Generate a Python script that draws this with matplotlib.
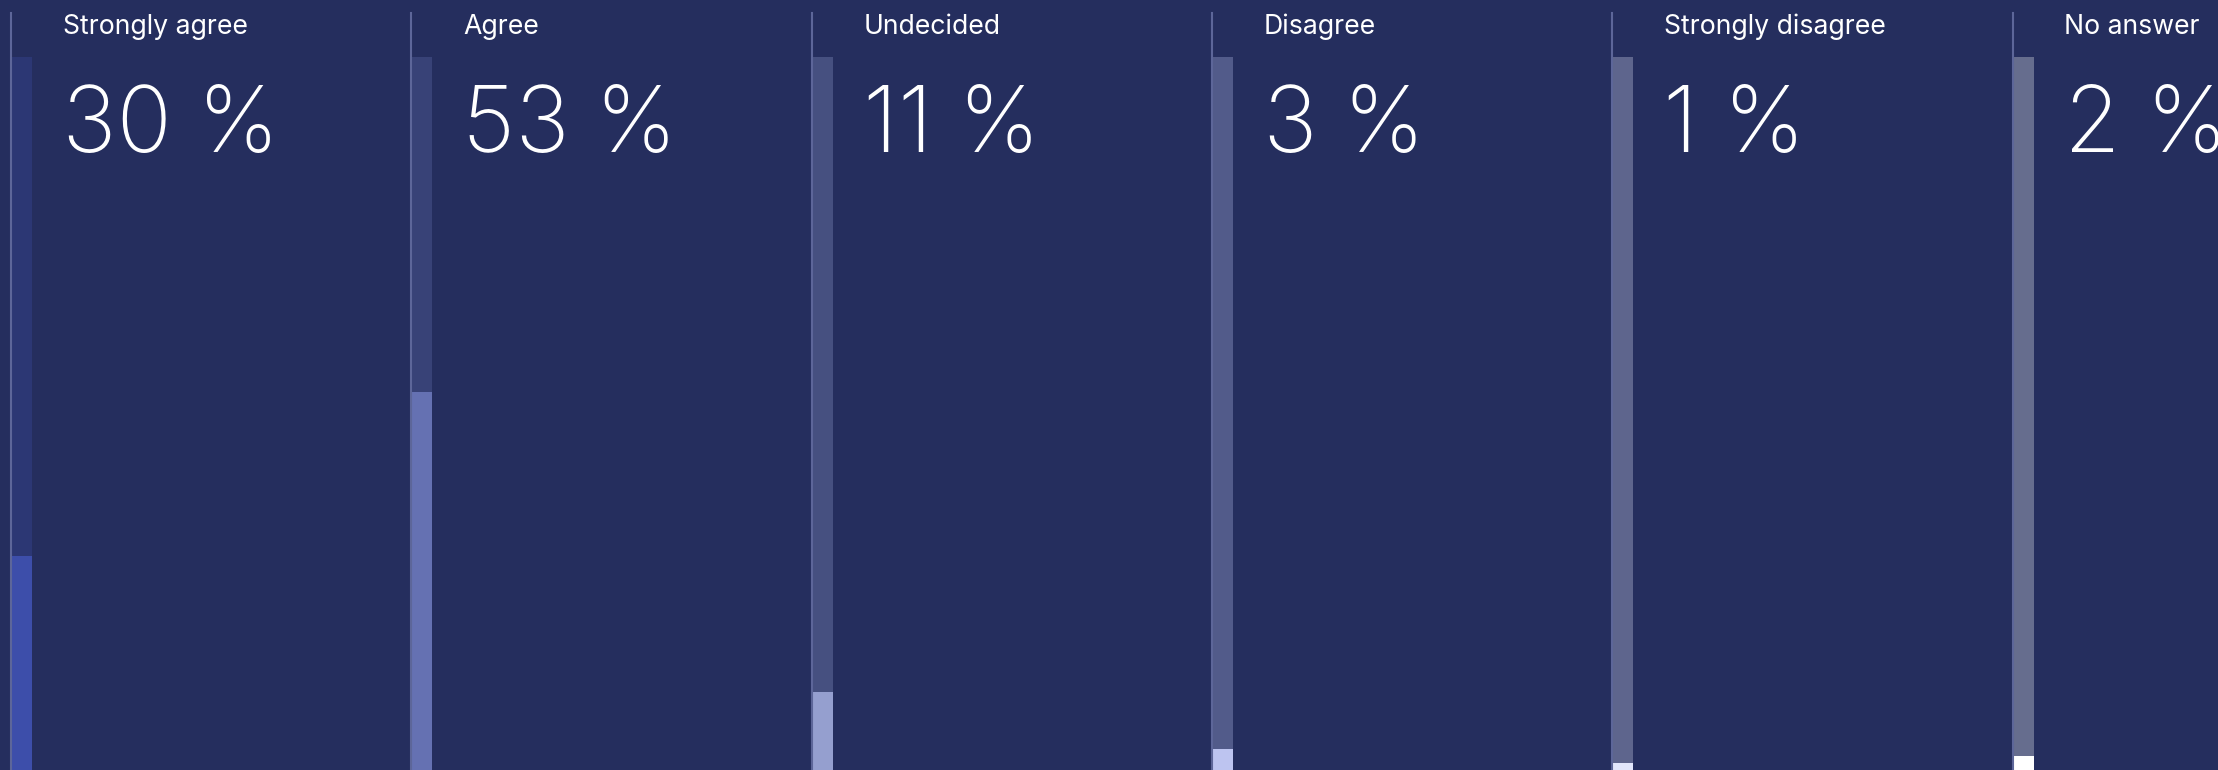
import matplotlib
matplotlib.use('Agg')
import matplotlib.pyplot as plt
from matplotlib.lines import Line2D

# data
categories = ['Strongly agree', 'Agree', 'Undecided', 'Disagree', 'Strongly disagree', 'No answer']
values = [30, 53, 11, 3, 1, 2]
fill_colors = ['#3d4eaa', '#6571b2', '#959fcf', '#bdc4f0', '#e2e6fb', '#ffffff']

BG = '#252e5e'
W, H = 2218, 770
PANEL_STEP = 400.3
LINE_X0 = 11
BAR_W = 21
BAR_TOP = 57

plt.rcParams['font.family'] = ['Inter', 'DejaVu Sans']

fig = plt.figure(figsize=(W / 100, H / 100), dpi=100)
fig.patch.set_facecolor(BG)

for i, (cat, val, col) in enumerate(zip(categories, values, fill_colors)):
    x0 = LINE_X0 + PANEL_STEP * i

    # bar track + fill
    ax = fig.add_axes([x0 / W, 0, BAR_W / W, (H - BAR_TOP) / H])
    ax.set_xlim(0, 1)
    ax.set_ylim(0, 100)
    ax.bar([0.5], [100], width=1, color=col, alpha=0.3, linewidth=0)
    ax.bar([0.5], [val], width=1, color=col, linewidth=0)
    ax.axis('off')

    # thin left border line
    fig.add_artist(Line2D([x0 / W, x0 / W], [0, 1 - 13 / H],
                          transform=fig.transFigure, color='#5d6699', linewidth=1.5))

    # texts
    fig.text((x0 + 52) / W, 1 - 34 / H, cat, color='white', fontsize=19.2,
             va='baseline', ha='left')
    fig.text((x0 + 51) / W, 1 - 152 / H, f'{val} %', color='white', fontsize=66,
             fontweight='light', va='baseline', ha='left')

plt.savefig('out.png', dpi=100, facecolor=BG)
